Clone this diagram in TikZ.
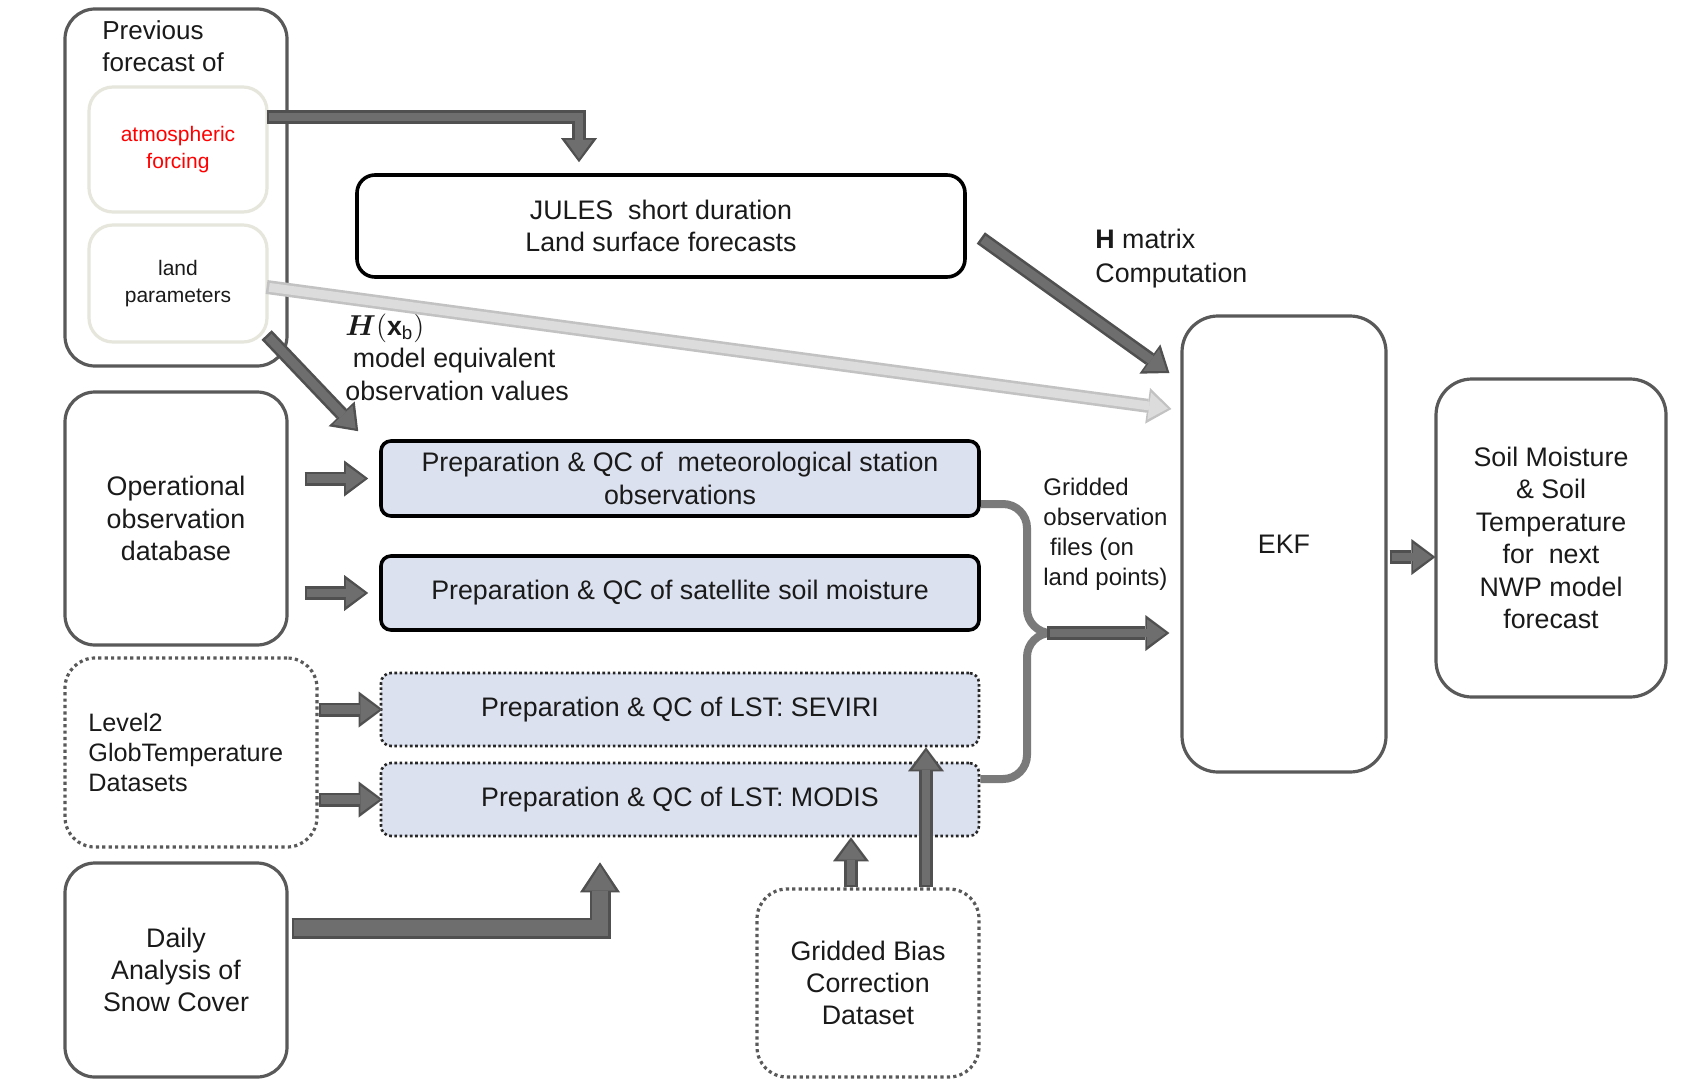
\documentclass[tikz,border=0pt]{standalone}
\usepackage{amsmath,amssymb}
\usepackage{fontspec}
\setmainfont{Liberation Sans}
\usetikzlibrary{arrows.meta,calc}
\definecolor{boxgray}{HTML}{595959}
\definecolor{prepfill}{HTML}{DCE1EF}
\definecolor{innerbd}{HTML}{E6E6DC}
\definecolor{arrfill}{HTML}{6E6E6E}
\definecolor{arredge}{HTML}{505050}
\definecolor{ltfill}{HTML}{DCDCDC}
\definecolor{ltedge}{HTML}{C2C2C2}
\definecolor{brkcol}{HTML}{7A7A7A}
\definecolor{txt}{HTML}{1A1A1A}
\newcommand{\barrow}[2][dk]{\draw[#1 out] #2; \draw[#1 in] #2;}
\tikzset{
  graybox/.style={draw=boxgray, line width=1.6pt, rounded corners=15pt, fill=white, align=center, inner sep=0pt},
  innerbox/.style={draw=innerbd, line width=1.6pt, rounded corners=12pt, fill=white, align=center, inner sep=0pt, font=\fontsize{10.5}{13.5}\selectfont},
  julesbox/.style={draw=black, line width=1.8pt, rounded corners=9pt, fill=white, align=center, inner sep=0pt},
  prepbox/.style={draw=black, line width=1.8pt, rounded corners=5pt, fill=prepfill, align=center, inner sep=0pt, minimum width=299pt},
  dotprep/.style={draw=black!85, line width=1.3pt, dash pattern=on 1.3pt off 1.3pt, rounded corners=5pt, fill=prepfill, align=center, inner sep=0pt, minimum width=299pt},
  dotbox/.style={draw=boxgray, line width=1.6pt, dash pattern=on 1.6pt off 1.6pt, rounded corners=15pt, fill=white, align=center, inner sep=0pt},
  lbl/.style={anchor=west, align=left, inner sep=0pt},
  dk out/.style={draw=arredge, line width=7pt, -{Triangle[length=12pt,width=18pt,line width=0pt]}},
  dk in/.style={draw=arrfill, line width=4.4pt, shorten >=1.8pt, shorten <=1.3pt, -{Triangle[length=9.4pt,width=13.6pt,line width=0pt]}},
  lt out/.style={draw=ltedge, line width=7pt, -{Triangle[length=12pt,width=18pt,line width=0pt]}},
  lt in/.style={draw=ltfill, line width=4.4pt, shorten >=1.8pt, shorten <=1.3pt, -{Triangle[length=9.4pt,width=13.6pt,line width=0pt]}},
  big out/.style={draw=arredge, line width=10.5pt, -{Triangle[length=15pt,width=20pt,line width=0pt]}},
  big in/.style={draw=arrfill, line width=7.9pt, shorten >=1.8pt, shorten <=1.3pt, -{Triangle[length=12.4pt,width=15.6pt,line width=0pt]}},
  brkline/.style={draw=brkcol, line width=4pt, rounded corners=12pt},
}
\begin{document}
\begin{tikzpicture}[x=0.5pt, y=-0.5pt, font=\fontsize{13.4}{16.2}\selectfont, text=txt]
\useasboundingbox (0,0) rectangle (1696,1081);
\fill[white] (0,0) rectangle (1696,1081);

% left column
\node[graybox, minimum width=111pt, minimum height=178.5pt] (prev) at (176,187.5) {};
\node[lbl, font=\fontsize{13}{16.2}\selectfont] (prevlbl) at (102,46) {Previous\\forecast of};
\node[innerbox, minimum width=89pt, minimum height=62.5pt, text=red] (atm) at (178,149.5) {atmospheric\\forcing};
\node[innerbox, minimum width=89pt, minimum height=58.5pt] (land) at (178,283.5) {land\\parameters};

\node[graybox, minimum width=111pt, minimum height=126.5pt] (ops) at (176,518.5) {Operational\\observation\\database};
\node[dotbox, minimum width=126pt, minimum height=94.5pt] (l2) at (191,752.5) {};
\node[lbl, font=\fontsize{12.6}{15}\selectfont] (l2txt) at (88,752) {Level2\\GlobTemperature\\Datasets};
\node[graybox, minimum width=111pt, minimum height=107pt] (snow) at (176,970) {Daily\\Analysis of\\Snow Cover};

% middle
\node[julesbox, minimum width=304pt, minimum height=51pt] (jules) at (661,226) {JULES\ \ short duration\\Land surface forecasts};
\node[prepbox, minimum height=37.5pt] (met) at (680,478.5) {Preparation \& QC of\ \ meteorological station\\observations};
\node[prepbox, minimum height=37pt] (sat) at (680,593) {Preparation \& QC of satellite soil moisture};
\node[dotprep, minimum height=36.5pt] (sev) at (680,709.5) {Preparation \& QC of LST:\ SEVIRI};
\node[dotprep, minimum height=36.5pt] (mod) at (680,799.5) {Preparation \& QC of LST:\ MODIS};
\node[dotbox, minimum width=111pt, minimum height=94pt] (bias) at (868,983) {Gridded Bias\\Correction\\Dataset};

% right
\node[graybox, rounded corners=18pt, minimum width=102pt, minimum height=228pt] (ekf) at (1284,544) {EKF};
\node[graybox, rounded corners=18pt, minimum width=115pt, minimum height=159pt] (out) at (1551,538) {Soil Moisture\\\& Soil\\Temperature\\for\ \ next\\NWP model\\forecast};

% labels
\node[lbl, font=\fontsize{13.4}{17}\selectfont] (hmat) at (1095,259) {$\mathbf{H}$ matrix\\Computation};
\node[lbl] (hxb) at (345,357) {$\boldsymbol{H}(\mathbf{x}_{\mathrm{b}})$\\\ model equivalent\\observation values};
\node[lbl, font=\fontsize{12}{15}\selectfont] (grd) at (1043,534) {Gridded\\observation\\\ files (on\\land points)};

% connectors
\coordinate (c1) at ($(jules.north)+(-82,-11)$);
\barrow{($(atm.east)+(-2,-32.5)$) -| (c1)}
\barrow{($(jules.east)+(14,12)$) -- ($(ekf.west)+(-11,-171)$)}
\barrow[lt]{($(land.east)+(-2,3.5)$) -- ($(ekf.west)+(-9,-135)$)}
\barrow{($(land.east)+(-2,51.5)$) -- ($(met.north west)+(-21,-8)$)}
\barrow{($(ops.east |- met.west)+(16,0)$) -- ($(met.west)+(-11,0)$)}
\barrow{($(ops.east |- sat.west)+(16,0)$) -- ($(sat.west)+(-11,0)$)}
\barrow{($(l2.east |- sev.west)+(0,0)$) -- ($(sev.west)+(3,0)$)}
\barrow{($(l2.east |- mod.west)+(0,0)$) -- ($(mod.west)+(3,0)$)}
\coordinate (c2) at ($(mod.south)+(-80,25)$);
\barrow[big]{($(snow.east)+(3,-42)$) -| (c2)}
\barrow{($(bias.north)+(-17,0)$) -- ($(mod.south)+(171,0)$)}
\barrow{($(bias.north)+(58,0)$) -- ($(sev.south)+(246,0)$)}

\coordinate (jn) at (1027,633);
\coordinate (js) at (1047,633);
\draw[brkline] ($(met.east)+(0,25.5)$) -| (jn) -- (js);
\draw[brkline] ($(mod.east)+(0,-20.5)$) -| (jn) -- (js);
\barrow{(js) -- ($(js -| ekf.west)+(-11,0)$)}
\barrow{($(ekf.east)+(2,13)$) -- ($(out.west)+(1,19)$)}
\end{tikzpicture}
\end{document}
